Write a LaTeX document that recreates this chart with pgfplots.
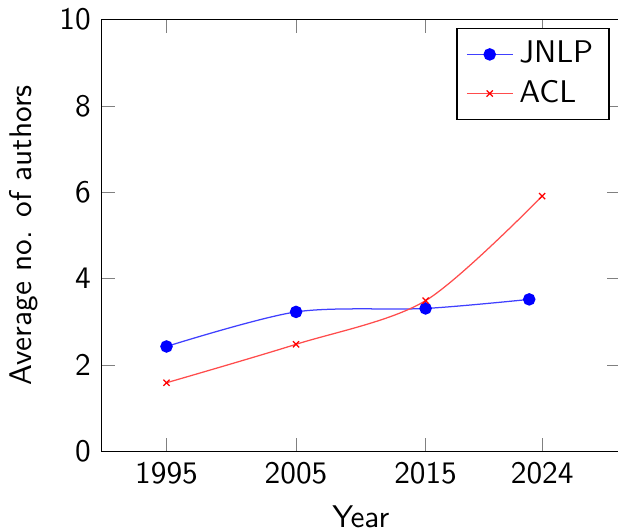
\documentclass[border=0pt]{standalone}
\usepackage{pgfplots}
\pgfplotsset{compat=1.18}
\begin{document}
\begin{tikzpicture}[font=\sffamily]
\begin{axis}[
  scale only axis,
  width=165.5pt, height=138pt,
  xmin=1990, xmax=2030,
  ymin=0, ymax=10,
  xtick={1995,2005,2015,2024},
  ytick={0,2,4,6,8,10},
  xticklabel={\textsf{\pgfmathprintnumber[assume math mode=true,1000 sep={}]{\tick}}},
  yticklabel={\textsf{\pgfmathprintnumber[assume math mode=true]{\tick}}},
  xlabel={Year},
  ylabel={Average no. of authors},
  legend style={font=\sffamily},
  legend cell align=left,
  legend image code/.code={\draw[mark repeat=2,mark phase=2,#1] plot coordinates {(0cm,0cm) (0.255cm,0cm) (0.51cm,0cm)};},
]
\addplot[blue!75, smooth, mark=*, mark size=1.8pt, mark options={solid, fill=blue, draw=blue}]
  coordinates {(1995,2.43) (2005,3.23) (2015,3.31) (2023,3.52)};
\addlegendentry{JNLP}
\addplot[red!70, smooth, mark=x, mark size=1.4pt, mark options={solid, draw=red}]
  coordinates {(1995,1.59) (2005,2.48) (2015,3.49) (2024,5.91)};
\addlegendentry{ACL}
\coordinate (bl) at (rel axis cs:0,0);
\coordinate (tr) at (rel axis cs:1,1);
\end{axis}
\pgfresetboundingbox
\path[use as bounding box] ([shift={(-32.5pt,-24.6pt)}]bl) rectangle ([shift={(-0.6pt,6.2pt)}]tr);
\end{tikzpicture}
\end{document}
